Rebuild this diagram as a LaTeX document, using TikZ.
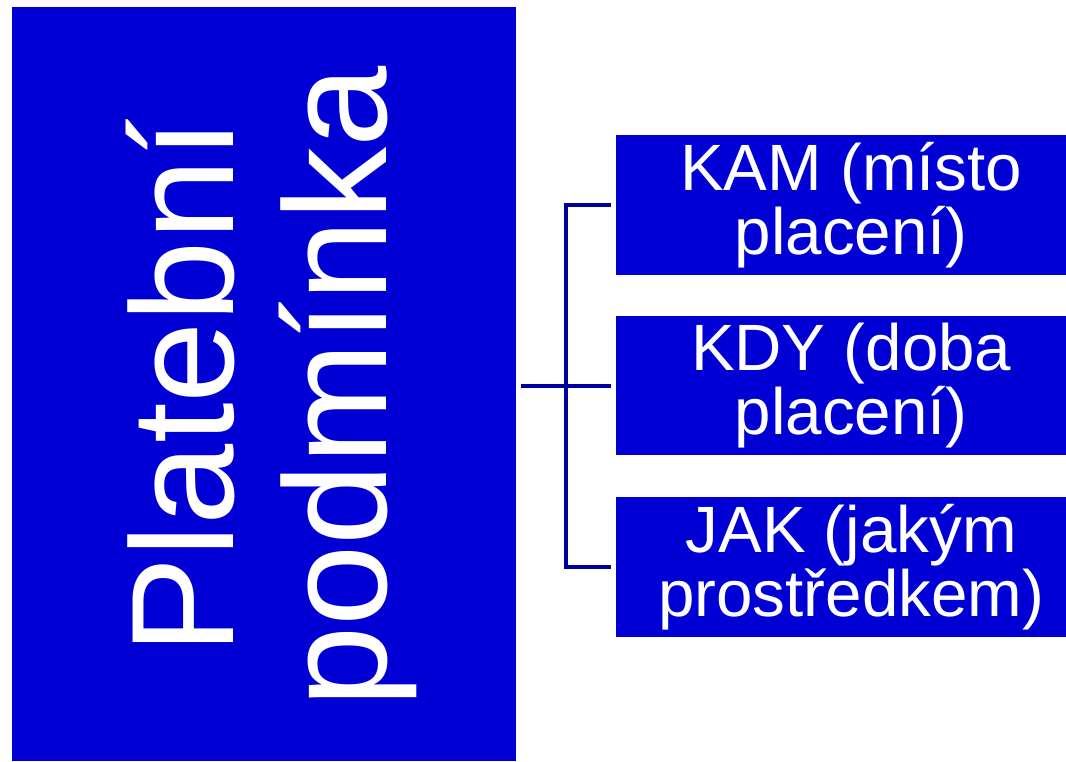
\documentclass[tikz,border=0pt]{standalone}
\usepackage{fontspec}
\setmainfont{Liberation Sans}
\definecolor{boxblue}{HTML}{0000D4}
\definecolor{lineblue}{HTML}{0000A0}
\begin{document}
\begin{tikzpicture}[x=1pt,y=1pt,
  bluebox/.style={fill=boxblue, draw=none, inner sep=0pt, anchor=north west},
  bigtext/.style={text=white, align=center, inner sep=0pt, rotate=90,
    font=\fontsize{146}{153}\selectfont},
  smalltext/.style={text=white, align=center, inner sep=0pt,
    font=\fontsize{65.5}{64.5}\selectfont},
  conn/.style={draw=lineblue, line width=4pt}]
\useasboundingbox (0,0) rectangle (1066,761);
\fill[white] (0,0) rectangle (1066,761);
% main box
\node[bluebox, minimum width=504pt, minimum height=754pt] (big) at (12,754) {};
\node[bigtext] (bigt) at (271,374) {Platební\\podmínka};
% right boxes
\node[bluebox, minimum width=450pt, minimum height=140pt] (b1) at (616,626) {};
\node[bluebox, minimum width=450pt, minimum height=139pt] (b2) at (616,445) {};
\node[bluebox, minimum width=450pt, minimum height=140pt] (b3) at (616,264) {};
\node[smalltext] (t1) at ([xshift=10pt]b1.center) {KAM (místo\\placení)};
\node[smalltext] (t2) at ([xshift=10pt]b2.center) {KDY (doba\\placení)};
\node[smalltext] (t3) at ([xshift=10pt]b3.center) {JAK (jakým\\prostředkem)};
% connectors
\draw[conn] ([xshift=5pt]big.east |- b2.west) -- ([xshift=-5pt]b2.west);
\draw[conn] ([xshift=-5pt]b1.west) -| ([xshift=-50pt]b2.west) |- ([xshift=-5pt]b3.west);
\end{tikzpicture}
\end{document}
